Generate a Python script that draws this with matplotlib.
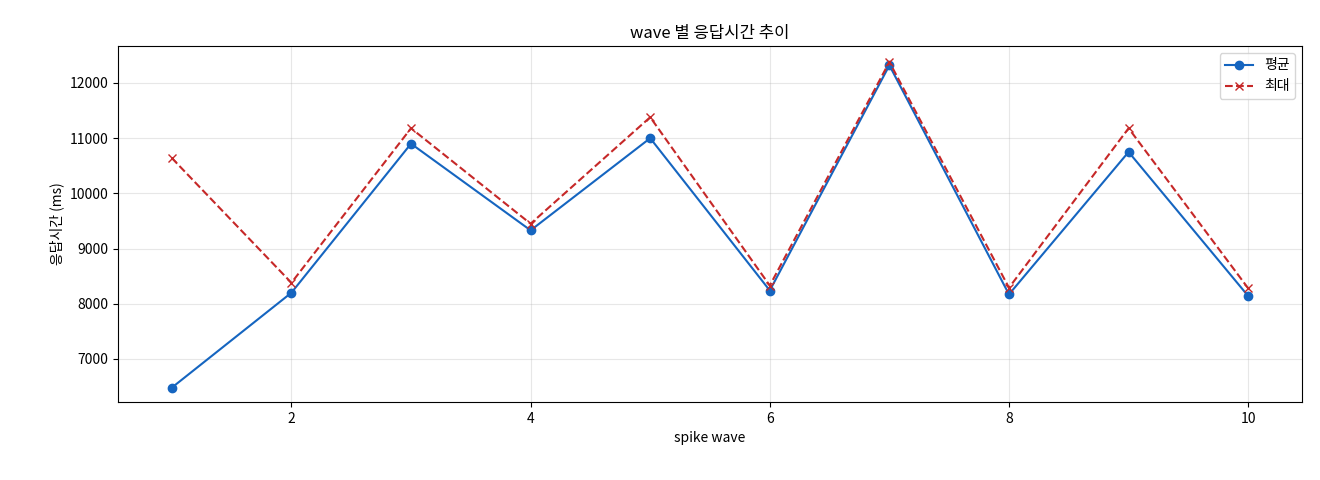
import matplotlib
matplotlib.use("Agg")
import matplotlib.pyplot as plt

plt.rcParams['font.family'] = ['Noto Sans CJK KR', 'DejaVu Sans']

waves = [1, 2, 3, 4, 5, 6, 7, 8, 9, 10]
avg_ms = [6480, 8200, 10900, 9330, 11000, 8240, 12320, 8170, 10750, 8140]
max_ms = [10640, 8380, 11180, 9450, 11380, 8330, 12380, 8290, 11180, 8280]

fig = plt.figure(figsize=(13.2, 4.8), dpi=100)
ax = fig.add_axes([118/1320, 1-402/480, (1302-118)/1320, (402-46)/480])
ax.plot(waves, avg_ms, marker='o', color='#1565C0', label='평균', linewidth=1.5, markersize=6)
ax.plot(waves, max_ms, marker='x', linestyle='--', color='#C62828', label='최대', linewidth=1.5, markersize=6)
ax.set_title('wave 별 응답시간 추이', fontsize=12)
ax.set_xlabel('spike wave', fontsize=10)
ax.set_ylabel('응답시간 (ms)', fontsize=10)
ax.set_xticks([2, 4, 6, 8, 10])
ax.set_yticks([7000, 8000, 9000, 10000, 11000, 12000])
ax.set_ylim(6220, 12670)
ax.grid(True, alpha=0.3)
ax.tick_params(labelsize=10)
ax.legend(loc='upper right', fontsize=10)
fig.savefig('out.png', dpi=100)
